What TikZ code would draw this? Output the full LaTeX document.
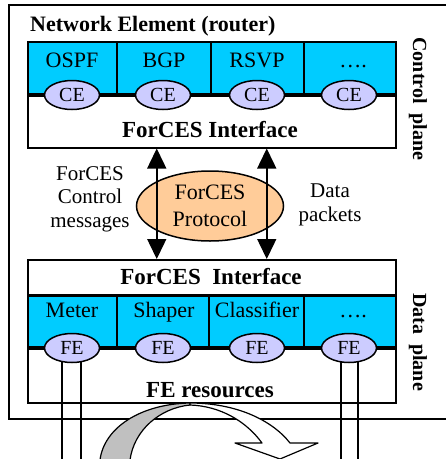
\documentclass[tikz,border=0pt]{standalone}
\usepackage{fontspec}
\setmainfont{Liberation Serif}
\usetikzlibrary{arrows.meta,shapes.geometric}
\definecolor{cellblue}{HTML}{00CCFF}
\definecolor{lav}{HTML}{CCCCFF}
\definecolor{peach}{HTML}{FFCC99}
\definecolor{arrgrey}{HTML}{C0C0C0}
\begin{document}
\begin{tikzpicture}[x=1pt,y=-1pt,
  lbl/.style={font=\fontsize{22}{26}\selectfont, inner sep=0pt, anchor=base},
  blbl/.style={font=\fontsize{23}{27}\selectfont\bfseries, inner sep=0pt, anchor=base},
  side/.style={font=\fontsize{21}{23.5}\selectfont, inner sep=0pt, align=center},
  plane/.style={font=\fontsize{20}{24}\selectfont\bfseries, inner sep=0pt, rotate=-90},
  oval/.style={ellipse, draw, line width=1.5pt, fill=lav, minimum width=55pt, minimum height=29pt, inner sep=0pt, font=\fontsize{20}{24}\selectfont},
  boxstyle/.style={draw, line width=1.5pt, rectangle, inner sep=0pt, anchor=north west},
  thick line/.style={line width=4pt},
  divider/.style={line width=2.5pt},
  biarrow/.style={line width=1.5pt, {Triangle[width=19pt,length=20pt]}-{Triangle[width=19pt,length=20pt]}},
  thinline/.style={line width=1.2pt}
]
\clip (0,0) rectangle (446,459);
\fill[white] (0,0) rectangle (446,459);
% outer frame
\draw[line width=1.5pt] (9,5) rectangle (455,419);
\node[blbl, anchor=base west, font=\fontsize{22}{26}\selectfont\bfseries] (ne) at (30,31) {Network Element (router)};

% top box
\fill[cellblue] (27,41) rectangle (395,95);
\node[boxstyle, minimum width=368pt, minimum height=106pt] (topbox) at (27,41) {};
\draw[thick line] (27,95) -- (395,95);
\foreach \x in {117,211,304} \draw[divider] (\x,41) -- (\x,95);
\node[lbl] (ospf) at (72,67) {OSPF};
\node[lbl] (bgp) at (164,67) {BGP};
\node[lbl] (rsvp) at (257,67) {RSVP};
\node[lbl] (dots1) at (353,67) {….};
\node[oval] (ce1) at (72,95) {CE};
\node[oval] (ce2) at (163,95) {CE};
\node[oval] (ce3) at (257,95) {CE};
\node[oval] (ce4) at (349,95) {CE};
\node[blbl] (ifc1) at (210,137) {ForCES Interface};
\node[plane] (cp) at (418,99) {Control\ \ plane};

% bottom box
\fill[cellblue] (27,295) rectangle (395,348);
\node[boxstyle, minimum width=368pt, minimum height=143pt] (botbox) at (27,259) {};
\draw[line width=3pt] (27,295) -- (395,295);
\draw[thick line] (27,348) -- (395,348);
\foreach \x in {117,209,304} \draw[divider] (\x,295) -- (\x,348);
\node[blbl] (ifc2) at (211,284) {ForCES\ \ Interface};
\node[lbl] (meter) at (72,317) {Meter};
\node[lbl] (shaper) at (164,317) {Shaper};
\node[lbl] (class) at (257,317) {Classifier};
\node[lbl] (dots2) at (353,317) {….};
\node[blbl] (res) at (210,397) {FE resources};
\node[plane] (dp) at (418,342) {Data\ \ plane};

% vertical lines below FEs
\coordinate (fe1c) at (72,348);
\coordinate (fe4c) at (349,348);
\coordinate (l1) at (62,459);
\coordinate (l2) at (81,459);
\coordinate (l3) at (341,459);
\coordinate (l4) at (358,459);
\foreach \l/\c in {l1/fe1c,l2/fe1c,l3/fe4c,l4/fe4c}
  \draw[thinline] (\c -| \l) -- (\l);
\node[oval] (fe1) at (fe1c) {FE};
\node[oval] (fe2) at (163,348) {FE};
\node[oval] (fe3) at (257,348) {FE};
\node[oval] (fe4) at (fe4c) {FE};

% protocol
\node[ellipse, draw, line width=1.5pt, fill=peach, minimum width=147pt, minimum height=70pt, inner sep=0pt, align=center, font=\fontsize{22}{27}\selectfont] (proto) at (210,206) {ForCES\\Protocol};
\draw[biarrow] ([xshift=-55pt]topbox.south) -- ([xshift=-55pt]botbox.north);
\draw[biarrow] ([xshift=55pt]topbox.south) -- ([xshift=55pt]botbox.north);
\node[side] (cm) at (90,199) {ForCES\\Control\\messages};
\node[side] (dpk) at (330,205) {Data\\packets};

% curved arrow
\draw[line width=1.2pt, fill=arrgrey, line join=round]
  (100,460) .. controls (104,428) and (140,404) .. (190,403)
  -- (190,405) .. controls (160,408) and (134,430) .. (130,460) -- cycle;
\draw[line width=1.2pt, fill=white, line join=round]
  (190,403) .. controls (236,403) and (272,420) .. (290,443)
  -- (318,443) -- (280,459) -- (235,443) -- (262,443)
  .. controls (246,421) and (220,406) .. (190,405) -- cycle;
\end{tikzpicture}
\end{document}
